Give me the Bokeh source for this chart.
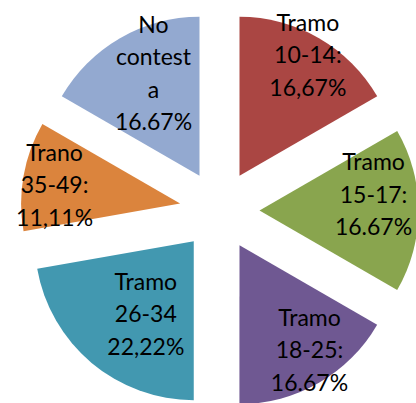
import math
from bokeh.plotting import figure
from bokeh.models import ColumnDataSource, Range1d
from bokeh.core.properties import value
from bokeh.embed import file_html
from bokeh.resources import INLINE

# ---- data ----
labels = ["Tramo\n10-14:\n16,67%", "Tramo\n15-17:\n16.67%", "Tramo\n18-25:\n16.67%",
          "Tramo\n26-34\n22,22%", "Trano\n35-49:\n11,11%", "No\ncontest\na\n16.67%"]
values = [16.67, 16.67, 16.67, 22.22, 11.11, 16.67]
colors = ["#AA4643", "#89A54E", "#6F5892", "#4298B0", "#DB843D", "#93A9D0"]

# ---- layout / style ----
W, H = 416, 403
cx_page, cy_page = 219, 210          # pie centre in page px
R = 159                               # radius px
EXPLODE = 40                          # explode offset px
label_frac = [0.86, 0.7225, 0.804, 0.563, 0.796, 0.695]
label_dang = [0, -7, -3.2, -7.6, -2.7, 5.4]   # degrees
FONT = "Lato"
FS = 23
LINE = 32.5
BASE_SHIFT = 3

p = figure(width=W, height=H, output_backend="svg", toolbar_location=None,
           x_axis_location=None, y_axis_location=None,
           min_border=0, min_border_left=0, min_border_right=0,
           min_border_top=0, min_border_bottom=0)
p.x_range = Range1d(-cx_page, W - cx_page)
p.y_range = Range1d(cy_page - H, cy_page)
p.grid.visible = False
p.outline_line_color = None
p.background_fill_color = "white"
p.border_fill_color = "white"

total = sum(values)
wx, wy, sa, ea = [], [], [], []
tx, ty, tt = [], [], []
cum = 0.0
for i, v in enumerate(values):
    t1 = cum / total * 2 * math.pi
    cum += v
    t2 = cum / total * 2 * math.pi
    tm = (t1 + t2) / 2
    ax = EXPLODE * math.sin(tm)
    ay = EXPLODE * math.cos(tm)
    wx.append(ax); wy.append(ay)
    sa.append(math.pi / 2 - t1); ea.append(math.pi / 2 - t2)
    la = tm + math.radians(label_dang[i])
    lx = ax + label_frac[i] * R * math.sin(la)
    ly = ay + label_frac[i] * R * math.cos(la)
    lines = labels[i].split("\n")
    n = len(lines)
    for k, s in enumerate(lines):
        tx.append(lx)
        ty.append(ly + BASE_SHIFT - (k - (n - 1) / 2) * LINE)
        tt.append(s)

src = ColumnDataSource(dict(x=wx, y=wy, sa=sa, ea=ea, color=colors))
p.wedge(x="x", y="y", radius=R, start_angle="sa", end_angle="ea",
        direction="clock", fill_color="color", line_color=None, source=src)

tsrc = ColumnDataSource(dict(x=tx, y=ty, text=tt))
p.text(x="x", y="y", text="text", source=tsrc, text_font=value(FONT),
       text_font_size=f"{FS}px", text_align="center", text_baseline="alphabetic",
       text_color="black")

open("out.html", "w").write(file_html(p, INLINE))
